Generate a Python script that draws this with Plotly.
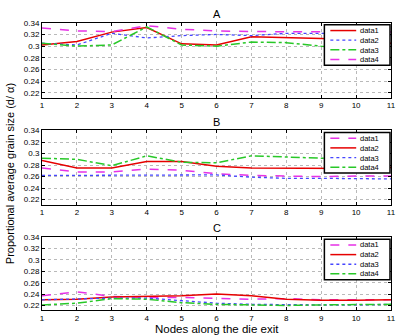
import plotly.graph_objects as go

nodes = list(range(1, 12))
x_ticks = [str(n) for n in nodes]
y_ticks = [0.22, 0.24, 0.26, 0.28, 0.30, 0.32, 0.34]
y_tick_labels = ["0.22", "0.24", "0.26", "0.28", "0.3", "0.32", "0.34"]
series_names = ["data1", "data2", "data3", "data4"]
panel_titles = ["A", "B", "C"]

# Panel A
a_data1 = [0.302, 0.308, 0.324, 0.332, 0.304, 0.302, 0.316, 0.315, 0.313, 0.311, 0.305]
a_data2 = [0.305, 0.302, 0.322, 0.314, 0.318, 0.320, 0.318, 0.322, 0.322, 0.320, 0.318]
a_data3 = [0.305, 0.300, 0.302, 0.333, 0.302, 0.300, 0.307, 0.306, 0.300, 0.298, 0.293]
a_data4 = [0.331, 0.326, 0.325, 0.335, 0.329, 0.326, 0.325, 0.325, 0.324, 0.325, 0.324]
# Panel B
b_data1 = [0.275, 0.268, 0.268, 0.273, 0.271, 0.265, 0.262, 0.261, 0.260, 0.261, 0.261]
b_data2 = [0.288, 0.275, 0.275, 0.286, 0.286, 0.278, 0.275, 0.275, 0.274, 0.274, 0.276]
b_data3 = [0.262, 0.262, 0.262, 0.262, 0.262, 0.263, 0.259, 0.257, 0.257, 0.256, 0.256]
b_data4 = [0.292, 0.290, 0.279, 0.296, 0.285, 0.284, 0.296, 0.294, 0.292, 0.290, 0.288]
# Panel C
c_data1 = [0.237, 0.244, 0.236, 0.234, 0.234, 0.232, 0.231, 0.232, 0.230, 0.230, 0.230]
c_data2 = [0.230, 0.231, 0.235, 0.236, 0.237, 0.240, 0.237, 0.231, 0.229, 0.229, 0.230]
c_data3 = [0.230, 0.232, 0.233, 0.233, 0.228, 0.224, 0.222, 0.221, 0.221, 0.221, 0.222]
c_data4 = [0.221, 0.224, 0.232, 0.231, 0.225, 0.222, 0.221, 0.220, 0.221, 0.222, 0.222]

RED = "rgb(230,0,0)"
BLUE = "rgb(70,70,255)"
GREEN = "rgb(40,200,40)"
MAG = "rgb(230,50,230)"

styles_a = [(RED, "solid"), (BLUE, "dot"), (GREEN, "dashdot"), (MAG, "dash")]
styles_bc = [(MAG, "dash"), (RED, "solid"), (BLUE, "dot"), (GREEN, "dashdot")]

panels = [
    ([a_data1, a_data2, a_data3, a_data4], styles_a),
    ([b_data1, b_data2, b_data3, b_data4], styles_bc),
    ([c_data1, c_data2, c_data3, c_data4], styles_bc),
]

H = 336.0
W = 396.0
L = 42
R = 3
PW = W - L - R
pix = [(19, 95), (128, 203), (236, 310)]


def px_x(p):
    return (p - L) / PW


def px_y(p):
    return 1 - p / H


fig = go.Figure()
font = "Liberation Sans, Arial, sans-serif"
shapes = []
annotations = []
LEG_FS = 7.5
LEG_STEP = LEG_FS * 1.3

for i, (series, styles) in enumerate(panels):
    k = i + 1
    xa = "x" if k == 1 else f"x{k}"
    ya = "y" if k == 1 else f"y{k}"
    for j, (vals, (col, dash)) in enumerate(zip(series, styles)):
        fig.add_trace(go.Scatter(
            x=nodes, y=vals, mode="lines", name=series_names[j],
            line=dict(color=col, dash=dash, width=1.5 if dash != "dot" else 1.3),
            xaxis=xa, yaxis=ya, showlegend=False,
        ))
    top, bot = pix[i]
    dom = [1 - bot / H, 1 - top / H]
    common = dict(showline=True, linecolor="black", linewidth=1,
                  mirror="ticks", ticks="inside", ticklen=3, tickcolor="black",
                  showgrid=True, gridcolor="rgb(185,185,185)", griddash="dot", gridwidth=0.8,
                  tickfont=dict(size=8, color="black", family=font),
                  ticklabeloverflow="allow",
                  zeroline=False, fixedrange=True)
    axx = dict(domain=[0, 1], range=[1, 11], tickmode="array", tickvals=nodes,
               ticktext=x_ticks, anchor=ya, **common)
    axy = dict(domain=dom, range=[0.2115, 0.34], tickmode="array", tickvals=y_ticks,
               ticktext=y_tick_labels, anchor=xa, **common)
    fig.update_layout({("xaxis" if k == 1 else f"xaxis{k}"): axx,
                       ("yaxis" if k == 1 else f"yaxis{k}"): axy})

    # panel title
    annotations.append(dict(text=panel_titles[i], x=0.5, xref="paper", y=px_y(top - 9),
                            yref="paper", showarrow=False,
                            font=dict(size=11, color="black", family=font),
                            xanchor="center", yanchor="middle"))
    # legend box (drawn in pixel-based paper coordinates)
    lx0, lx1 = 326, 392
    ly0 = top + 2
    inner = 4 * LEG_STEP
    ly1 = ly0 + inner + 2
    shapes.append(dict(type="rect", xref="paper", yref="paper",
                       x0=px_x(lx0), x1=px_x(lx1), y0=px_y(ly1), y1=px_y(ly0),
                       line=dict(color="black", width=1.5), fillcolor="white", layer="above"))
    for j, (col, dash) in enumerate(styles):
        yy = ly0 + 1 + LEG_STEP * (j + 0.5)
        shapes.append(dict(type="line", xref="paper", yref="paper",
                           x0=px_x(332), x1=px_x(358), y0=px_y(yy), y1=px_y(yy),
                           line=dict(color=col, dash=dash, width=1.5 if dash != "dot" else 1.3),
                           layer="above"))
    annotations.append(dict(text="<br>".join(series_names), x=px_x(361), xref="paper",
                            y=px_y(ly0 + 1 + inner / 2), yref="paper", showarrow=False,
                            xanchor="left", yanchor="middle", align="left",
                            borderpad=0,
                            font=dict(size=LEG_FS, color="black", family=font)))

annotations.append(dict(text="Nodes along the die exit", x=0.5, xref="paper",
                        y=px_y(336), yref="paper", showarrow=False,
                        font=dict(size=11.5, color="black", family=font),
                        xanchor="center", yanchor="bottom", yshift=-1))
annotations.append(dict(text="Proportional average grain size (d/ α)", textangle=-90,
                        x=px_x(10), xref="paper", y=px_y(172), yref="paper",
                        showarrow=False, xanchor="center", yanchor="middle",
                        font=dict(size=11, color="black", family=font)))

fig.update_layout(
    width=396, height=336, autosize=False,
    margin=dict(l=L, r=R, t=0, b=0),
    paper_bgcolor="white", plot_bgcolor="white",
    showlegend=False,
    shapes=shapes, annotations=annotations,
)

fig.write_html("out.html")
